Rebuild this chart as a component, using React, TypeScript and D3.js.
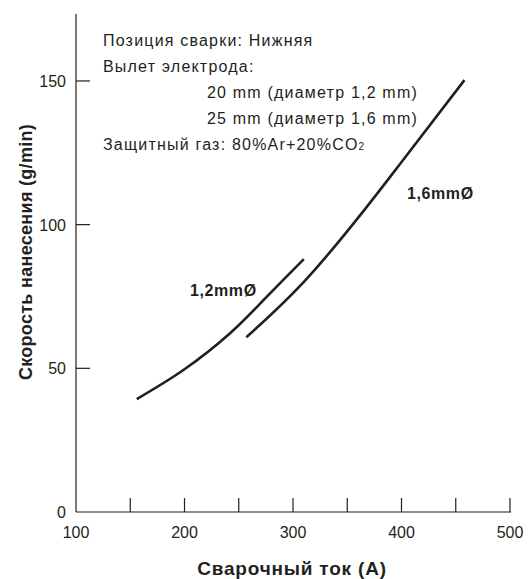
import React, { useEffect, useRef } from 'react'
import * as d3 from 'd3'

// welding current (A) vs deposition rate (g/min)
const wire12: [number, number][] = [
  [156, 39.3], [199, 49.4], [242, 62.2], [273, 73.8], [310, 88],
]
const wire16: [number, number][] = [
  [257, 60.8], [313, 81.3], [368, 106.2], [399, 121.3], [458, 150.3],
]

const xTicks = [150, 200, 250, 300, 350, 400, 450, 500]
const xLabels = [100, 200, 300, 400, 500]
const yTicks = [50, 100, 150]
const yLabels = [0, 50, 100, 150]

const notes = [
  { text: 'Позиция сварки: Нижняя', indent: 0 },
  { text: 'Вылет электрода:', indent: 0 },
  { text: '20 mm (диаметр 1,2 mm)', indent: 1 },
  { text: '25 mm (диаметр 1,6 mm)', indent: 1 },
]

const INK = '#231f20'
const FONT = 'Arial, "Liberation Sans", Helvetica, sans-serif'

export default function App() {
  const svgRef = useRef<SVGSVGElement>(null)

  useEffect(() => {
    if (!svgRef.current) return
    const svg = d3.select(svgRef.current)
    svg.selectAll('*').remove()

    const x = d3.scaleLinear().domain([100, 500]).range([76, 510])
    const y = d3.scaleLinear().domain([0, 173.3]).range([512, 14])

    // axes
    svg.append('line')
      .attr('x1', x(100)).attr('x2', x(100))
      .attr('y1', y(173.3)).attr('y2', y(0))
      .attr('stroke', INK).attr('stroke-width', 1.2)
    svg.append('line')
      .attr('x1', x(100)).attr('x2', x(500) + 1)
      .attr('y1', y(0)).attr('y2', y(0))
      .attr('stroke', INK).attr('stroke-width', 1.2)

    svg.append('g').selectAll('line')
      .data(xTicks)
      .join('line')
      .attr('x1', (d) => x(d)).attr('x2', (d) => x(d))
      .attr('y1', y(0)).attr('y2', y(0) - 14)
      .attr('stroke', INK).attr('stroke-width', 1.2)

    svg.append('g').selectAll('line')
      .data(yTicks)
      .join('line')
      .attr('x1', x(100)).attr('x2', x(100) + 14)
      .attr('y1', (d) => y(d)).attr('y2', (d) => y(d))
      .attr('stroke', INK).attr('stroke-width', 1.2)

    svg.append('g').selectAll('text')
      .data(xLabels)
      .join('text')
      .attr('x', (d) => x(d))
      .attr('y', y(0) + 26)
      .attr('text-anchor', 'middle')
      .attr('font-size', 16)
      .attr('fill', INK)
      .text((d) => d)

    svg.append('g').selectAll('text')
      .data(yLabels)
      .join('text')
      .attr('x', x(100) - 10)
      .attr('y', (d) => y(d) + 6)
      .attr('text-anchor', 'end')
      .attr('font-size', 16)
      .attr('fill', INK)
      .text((d) => d)

    // axis titles
    svg.append('text')
      .attr('x', 292).attr('y', 575)
      .attr('text-anchor', 'middle')
      .attr('font-size', 19).attr('font-weight', 'bold')
      .attr('letter-spacing', 0.8)
      .attr('fill', INK)
      .text('Сварочный ток (A)')

    svg.append('text')
      .attr('transform', 'translate(32,252) rotate(-90)')
      .attr('text-anchor', 'middle')
      .attr('font-size', 18).attr('font-weight', 'bold')
      .attr('letter-spacing', 0.3)
      .attr('fill', INK)
      .text('Скорость нанесения (g/min)')

    // curves
    const line = d3.line<[number, number]>()
      .x((d) => x(d[0]))
      .y((d) => y(d[1]))
      .curve(d3.curveNatural)

    ;[wire12, wire16].forEach((s) => {
      svg.append('path')
        .datum(s)
        .attr('fill', 'none')
        .attr('stroke', INK)
        .attr('stroke-width', 2.6)
        .attr('d', line)
    })

    svg.append('text')
      .attr('x', 190).attr('y', 296)
      .attr('font-size', 16).attr('font-weight', 'bold')
      .attr('letter-spacing', 0.6)
      .attr('fill', INK)
      .text('1,2mmØ')
    svg.append('text')
      .attr('x', 407).attr('y', 199)
      .attr('font-size', 16).attr('font-weight', 'bold')
      .attr('letter-spacing', 0.6)
      .attr('fill', INK)
      .text('1,6mmØ')

    // conditions note
    const note = svg.append('g')
      .attr('font-size', 16)
      .attr('letter-spacing', 1.2)
      .attr('fill', INK)
    note.selectAll('text')
      .data(notes)
      .join('text')
      .attr('x', (d) => (d.indent ? 207 : 103))
      .attr('y', (d, i) => 46 + i * 26)
      .text((d) => d.text)

    const gas = note.append('text').attr('x', 103).attr('y', 46 + 4 * 26)
    gas.append('tspan').text('Защитный газ: 80%Ar+20%CO')
    gas.append('tspan').attr('font-size', 10).attr('letter-spacing', 0).text('2')
  }, [])

  return (
    <svg
      ref={svgRef}
      width={530}
      height={579}
      style={{ position: 'absolute', left: 0, top: 0, background: '#fff', fontFamily: FONT }}
    />
  )
}
